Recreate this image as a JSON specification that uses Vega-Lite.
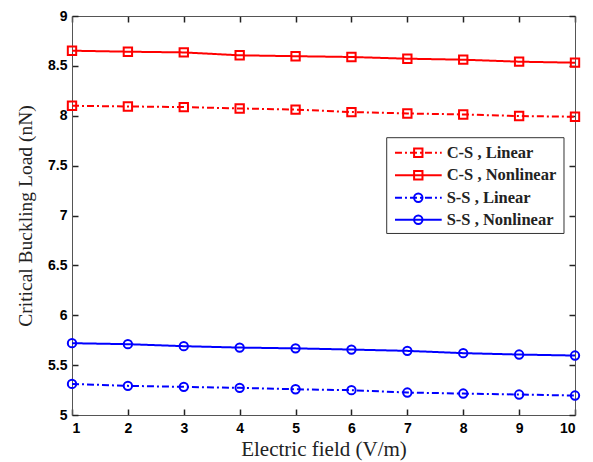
{
  "$schema": "https://vega.github.io/schema/vega-lite/v6.json",
  "width": 503,
  "height": 399,
  "autosize": {"type": "none"},
  "padding": {"left": 72, "top": 16, "right": 18, "bottom": 47},
  "background": "white",
  "config": {
    "view": {"stroke": null},
    "axis": {
      "domainColor": "#555",
      "domainWidth": 1,
      "labelFont": "Liberation Sans",
      "labelFontWeight": "bold",
      "labelFontSize": 14,
      "labelColor": "black",
      "titleFont": "Liberation Serif",
      "titleFontWeight": "normal",
      "titleColor": "#222"
    }
  },
  "datasets": {
    "main": [
      {"series": "C-S , Linear", "x": 1, "y": 8.100},
      {"series": "C-S , Linear", "x": 2, "y": 8.093},
      {"series": "C-S , Linear", "x": 3, "y": 8.087},
      {"series": "C-S , Linear", "x": 4, "y": 8.073},
      {"series": "C-S , Linear", "x": 5, "y": 8.062},
      {"series": "C-S , Linear", "x": 6, "y": 8.037},
      {"series": "C-S , Linear", "x": 7, "y": 8.023},
      {"series": "C-S , Linear", "x": 8, "y": 8.013},
      {"series": "C-S , Linear", "x": 9, "y": 7.997},
      {"series": "C-S , Linear", "x": 10, "y": 7.990},
      {"series": "C-S , Nonlinear", "x": 1, "y": 8.652},
      {"series": "C-S , Nonlinear", "x": 2, "y": 8.642},
      {"series": "C-S , Nonlinear", "x": 3, "y": 8.635},
      {"series": "C-S , Nonlinear", "x": 4, "y": 8.606},
      {"series": "C-S , Nonlinear", "x": 5, "y": 8.597},
      {"series": "C-S , Nonlinear", "x": 6, "y": 8.589},
      {"series": "C-S , Nonlinear", "x": 7, "y": 8.572},
      {"series": "C-S , Nonlinear", "x": 8, "y": 8.562},
      {"series": "C-S , Nonlinear", "x": 9, "y": 8.542},
      {"series": "C-S , Nonlinear", "x": 10, "y": 8.532},
      {"series": "S-S , Linear", "x": 1, "y": 5.312},
      {"series": "S-S , Linear", "x": 2, "y": 5.292},
      {"series": "S-S , Linear", "x": 3, "y": 5.282},
      {"series": "S-S , Linear", "x": 4, "y": 5.272},
      {"series": "S-S , Linear", "x": 5, "y": 5.258},
      {"series": "S-S , Linear", "x": 6, "y": 5.249},
      {"series": "S-S , Linear", "x": 7, "y": 5.225},
      {"series": "S-S , Linear", "x": 8, "y": 5.215},
      {"series": "S-S , Linear", "x": 9, "y": 5.205},
      {"series": "S-S , Linear", "x": 10, "y": 5.195},
      {"series": "S-S , Nonlinear", "x": 1, "y": 5.720},
      {"series": "S-S , Nonlinear", "x": 2, "y": 5.710},
      {"series": "S-S , Nonlinear", "x": 3, "y": 5.690},
      {"series": "S-S , Nonlinear", "x": 4, "y": 5.676},
      {"series": "S-S , Nonlinear", "x": 5, "y": 5.668},
      {"series": "S-S , Nonlinear", "x": 6, "y": 5.656},
      {"series": "S-S , Nonlinear", "x": 7, "y": 5.643},
      {"series": "S-S , Nonlinear", "x": 8, "y": 5.620},
      {"series": "S-S , Nonlinear", "x": 9, "y": 5.606},
      {"series": "S-S , Nonlinear", "x": 10, "y": 5.596}
    ],
    "legendBox": [
      {"x1": 6.631, "x2": 9.803, "y1": 6.82, "y2": 7.78}
    ],
    "legendRows": [
      {"series": "C-S , Linear", "ly": 7.629, "lx1": 6.779, "lx2": 7.615, "lxs": 7.196, "lxt": 7.704},
      {"series": "C-S , Nonlinear", "ly": 7.403, "lx1": 6.779, "lx2": 7.615, "lxs": 7.196, "lxt": 7.704},
      {"series": "S-S , Linear", "ly": 7.178, "lx1": 6.779, "lx2": 7.615, "lxs": 7.196, "lxt": 7.704},
      {"series": "S-S , Nonlinear", "ly": 6.957, "lx1": 6.779, "lx2": 7.615, "lxs": 7.196, "lxt": 7.704}
    ]
  },
  "layer": [
    {
      "data": {"name": "main"},
      "mark": {"type": "line", "strokeWidth": 2, "clip": false},
      "encoding": {
        "x": {"field": "x", "type": "quantitative",
              "scale": {"domain": [1, 10], "nice": false, "zero": false},
              "axis": {"orient": "bottom", "grid": false, "values": [1,2,3,4,5,6,7,8,9,10], "tickSize": -6, "tickColor": "#222", "tickWidth": 1.5, "tickRound": true, "labelPadding": 12, "title": "Electric field (V/m)", "titleFontSize": 21, "titlePadding": 3}},
        "y": {"field": "y", "type": "quantitative",
              "scale": {"domain": [5, 9], "nice": false, "zero": false},
              "axis": {"orient": "left", "grid": false, "values": [5,5.5,6,6.5,7,7.5,8,8.5,9], "format": "~g", "tickSize": -6, "tickColor": "#222", "tickWidth": 1.5, "tickRound": true, "labelPadding": 11, "title": "Critical Buckling Load (nN)", "titleFontSize": 19.5, "titlePadding": 12}},
        "color": {"field": "series", "type": "nominal",
                  "scale": {"domain": ["C-S , Linear", "C-S , Nonlinear", "S-S , Linear", "S-S , Nonlinear"], "range": ["#FF0000", "#FF0000", "#0000FF", "#0000FF"]},
                  "legend": null},
        "strokeDash": {"field": "series", "type": "nominal",
                  "scale": {"domain": ["C-S , Linear", "C-S , Nonlinear", "S-S , Linear", "S-S , Nonlinear"], "range": [[7,3,2,3],[1,0],[7,3,2,3],[1,0]]},
                  "legend": null}
      }
    },
    {
      "data": {"name": "main"},
      "mark": {"type": "point", "filled": false, "strokeWidth": 2, "opacity": 1, "clip": false},
      "encoding": {
        "x": {"field": "x", "type": "quantitative",
              "axis": {"orient": "top", "grid": false, "values": [1,2,3,4,5,6,7,8,9,10], "tickSize": -6, "tickColor": "#222", "tickWidth": 1.5, "tickRound": true, "labels": false, "title": null}},
        "y": {"field": "y", "type": "quantitative",
              "axis": {"orient": "right", "grid": false, "values": [5,5.5,6,6.5,7,7.5,8,8.5,9], "tickSize": -6, "tickColor": "#222", "tickWidth": 1.5, "tickRound": true, "labels": false, "title": null}},
        "color": {"field": "series", "type": "nominal", "legend": null},
        "shape": {"field": "series", "type": "nominal",
                  "scale": {"domain": ["C-S , Linear", "C-S , Nonlinear", "S-S , Linear", "S-S , Nonlinear"], "range": ["square", "square", "circle", "circle"]},
                  "legend": null},
        "size": {"field": "series", "type": "nominal",
                  "scale": {"domain": ["C-S , Linear", "C-S , Nonlinear", "S-S , Linear", "S-S , Nonlinear"], "range": [70, 70, 64, 64]},
                  "legend": null}
      }
    },
    {
      "data": {"name": "legendBox"},
      "mark": {"type": "rect", "fill": "white", "stroke": "#333", "strokeWidth": 1},
      "encoding": {
        "x": {"field": "x1", "type": "quantitative", "axis": null},
        "x2": {"field": "x2"},
        "y": {"field": "y1", "type": "quantitative", "axis": null},
        "y2": {"field": "y2"}
      }
    },
    {
      "data": {"name": "legendRows"},
      "mark": {"type": "rule", "strokeWidth": 2},
      "encoding": {
        "x": {"field": "lx1", "type": "quantitative", "axis": null},
        "x2": {"field": "lx2"},
        "y": {"field": "ly", "type": "quantitative", "axis": null},
        "color": {"field": "series", "type": "nominal", "legend": null},
        "strokeDash": {"field": "series", "type": "nominal", "legend": null}
      }
    },
    {
      "data": {"name": "legendRows"},
      "mark": {"type": "point", "filled": false, "strokeWidth": 2, "opacity": 1},
      "encoding": {
        "x": {"field": "lxs", "type": "quantitative", "axis": null},
        "y": {"field": "ly", "type": "quantitative", "axis": null},
        "color": {"field": "series", "type": "nominal", "legend": null},
        "shape": {"field": "series", "type": "nominal", "legend": null},
        "size": {"field": "series", "type": "nominal", "legend": null}
      }
    },
    {
      "data": {"name": "legendRows"},
      "mark": {"type": "text", "align": "left", "baseline": "middle", "font": "Liberation Serif", "fontWeight": "bold", "fontSize": 16.5, "color": "#222"},
      "encoding": {
        "x": {"field": "lxt", "type": "quantitative", "axis": null},
        "y": {"field": "ly", "type": "quantitative", "axis": null},
        "text": {"field": "series", "type": "nominal"}
      }
    }
  ],
  "resolve": {"axis": {"x": "independent", "y": "independent"}}
}
